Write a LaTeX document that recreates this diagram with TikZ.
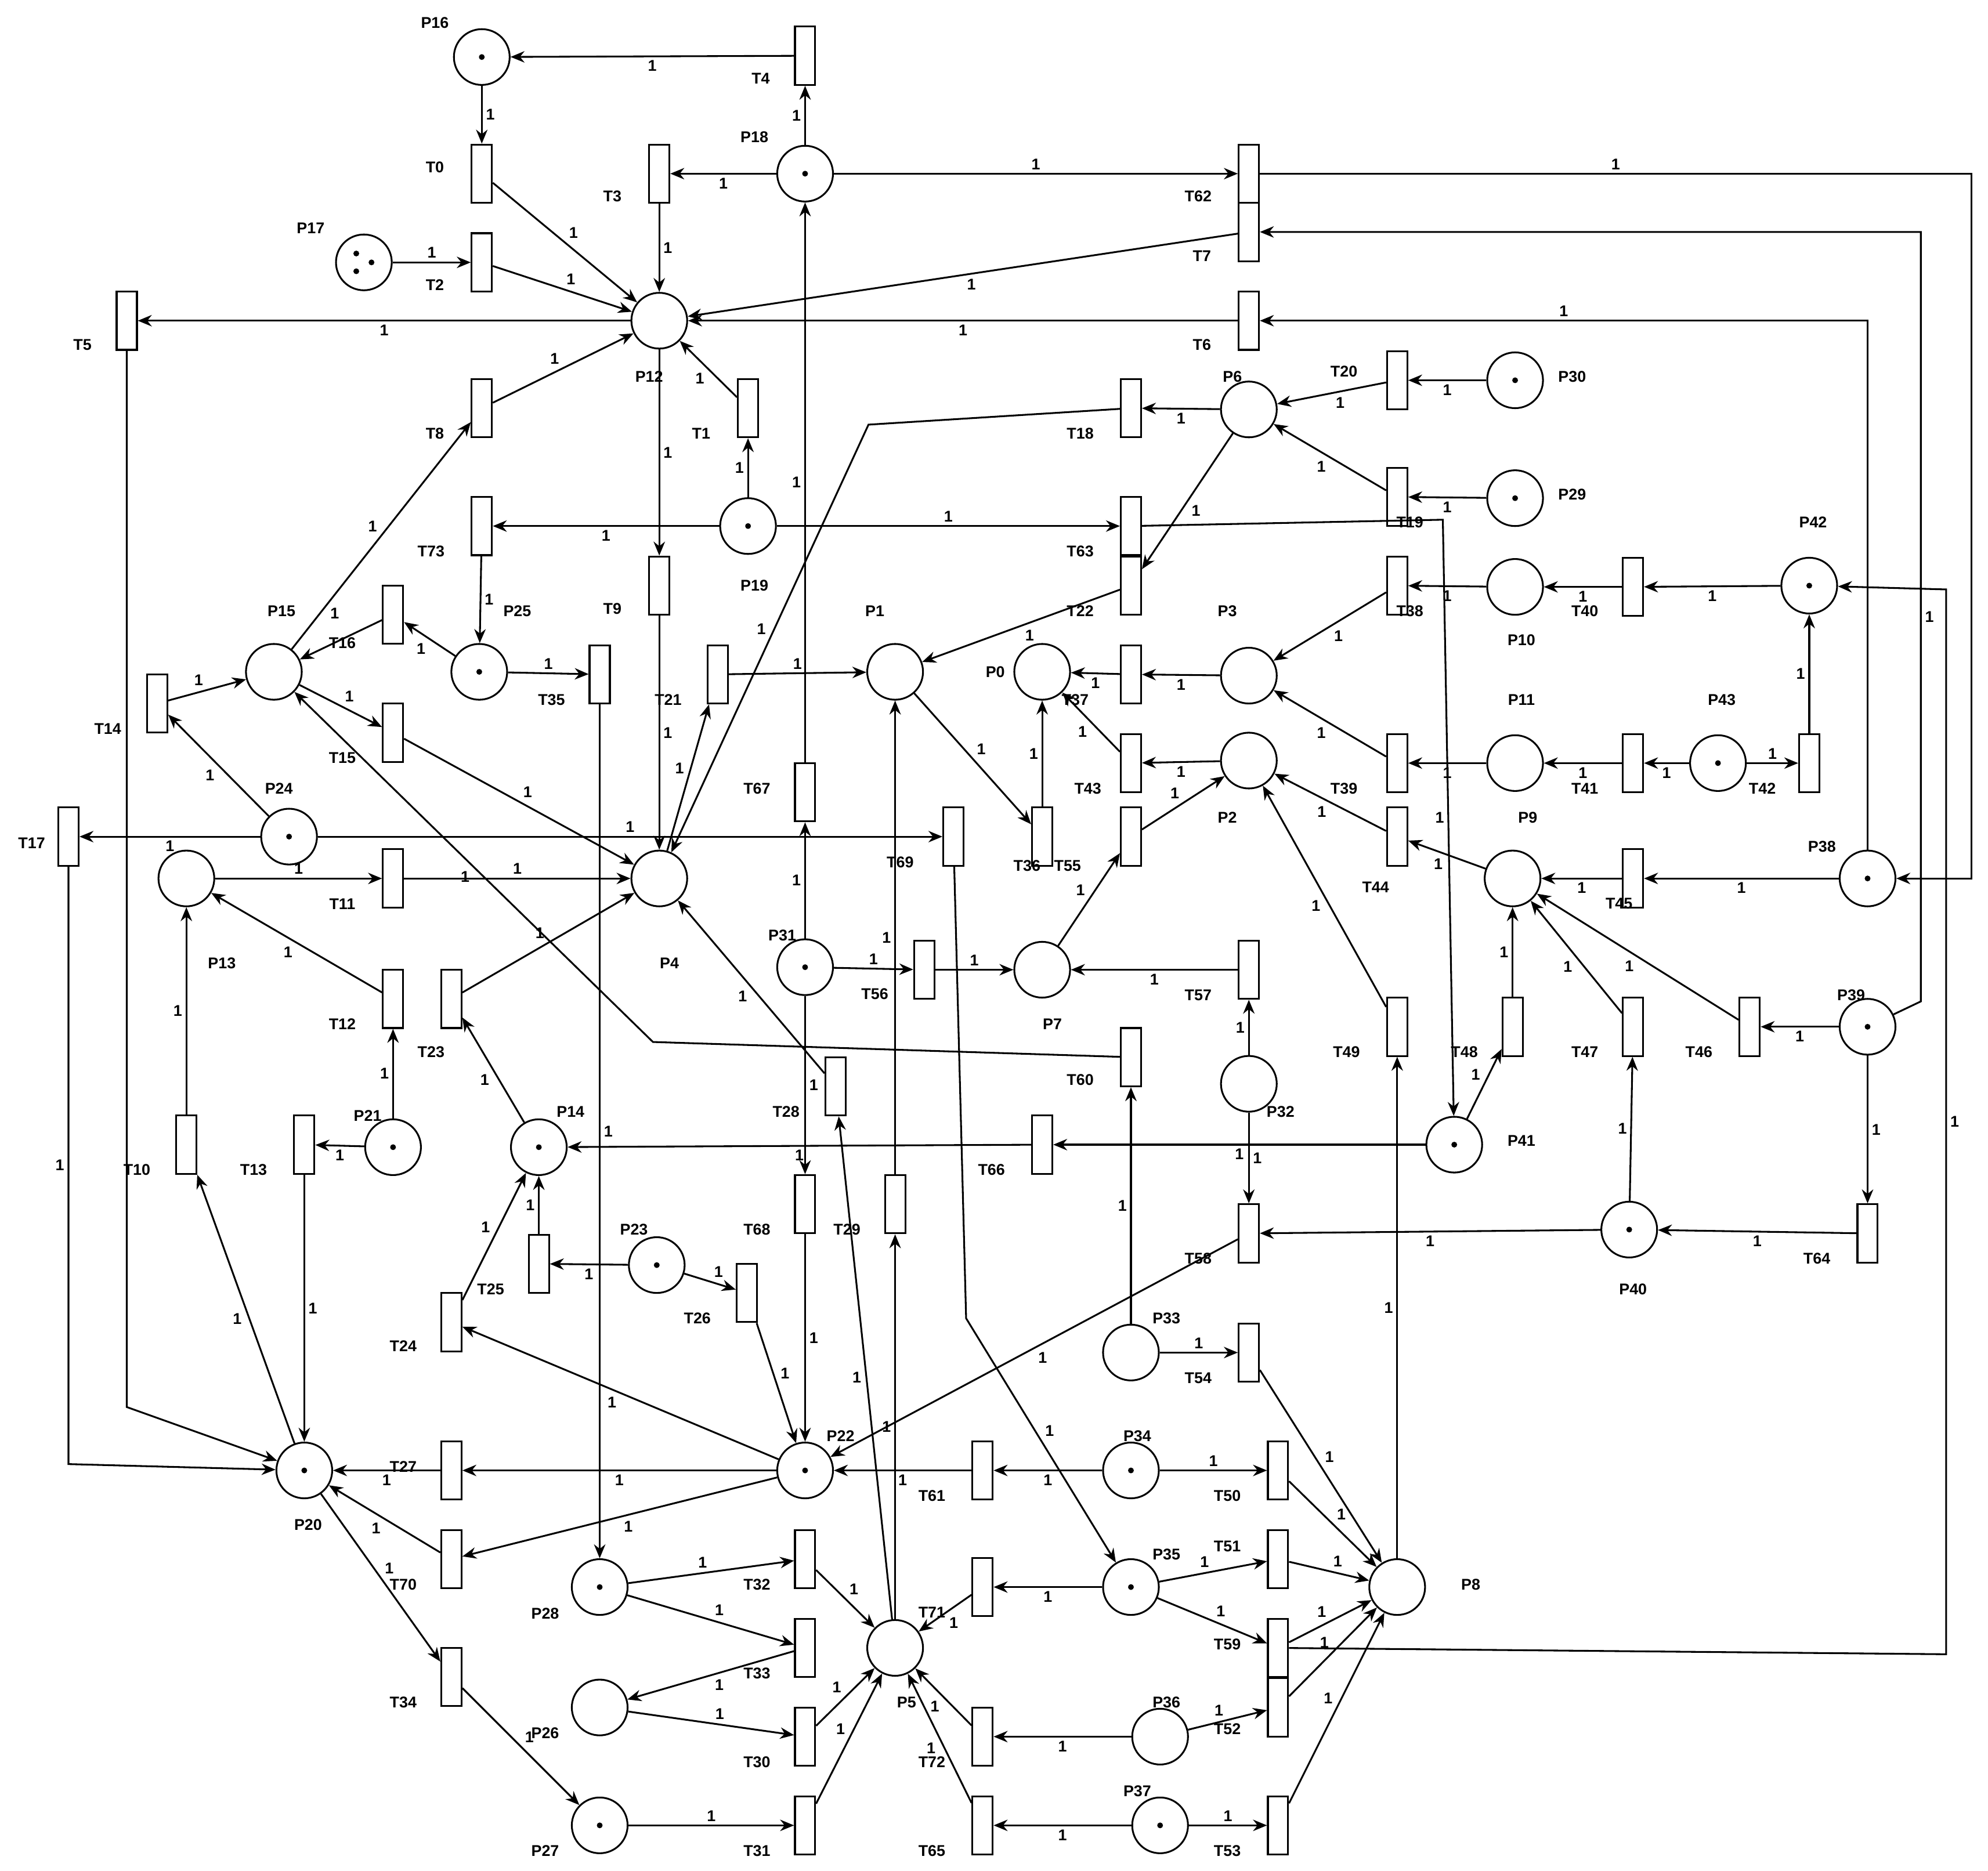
\documentclass[tikz,border=0pt]{standalone}
\usepackage{fontspec}
\setmainfont{Liberation Sans}
\usetikzlibrary{arrows.meta}
\begin{document}
\begin{tikzpicture}[x=0.02cm,y=-0.02cm,
 pl/.style={circle,draw,thick,minimum size=0.88cm,inner sep=0pt},
 tk/.style={pl,path picture={\fill (path picture bounding box.center) circle (1.3pt);}},
 tr/.style={rectangle,draw,thick,minimum width=0.32cm,minimum height=0.92cm,inner sep=0pt},
 lb/.style={font=\bfseries\fontsize{7}{8}\selectfont},
 w/.style={font=\bfseries\fontsize{7}{8}\selectfont,inner sep=1.5pt,auto},
 arc/.style={-{Stealth[length=2.2mm,width=1.8mm]},thick}]
\useasboundingbox (0,0) rectangle (1568,1476);
% places
\foreach \n/\x/\y in {P12/520/253,P6/985/323,P10/1195/463,P15/216/530,P1/706/530,P0/822/530,P3/985/533,P11/1195/602,P2/985/600,P13/147/693,P4/520/693,P9/1193/693,P7/822/765,P32/985/855,P33/892/1067,P8/1102/1252,P5/706/1300,P26/473/1347,P36/915/1370}
  \node[pl] (\n) at (\x,\y) {};
\foreach \n/\x/\y in {P16/380/45,P18/635/137,P30/1195/300,P29/1195/393,P19/590/415,P42/1427/462,P25/378/530,P43/1355/602,P24/228/660,P38/1473/693,P31/635/763,P39/1473/810,P14/425/905,P21/310/905,P41/1147/903,P23/518/998,P40/1285/970,P20/240/1160,P22/635/1160,P34/892/1160,P28/473/1252,P35/892/1252,P27/473/1440,P37/915/1440}
  \node[tk] (\n) at (\x,\y) {};
\node[pl] (P17) at (287,207) {};
\fill (281,200) circle (1.3pt) (293,207) circle (1.3pt) (281,214) circle (1.3pt);
% transitions
\foreach \n/\x/\y in {T4/635/44,T0/380/137,T3/520/137,T62/985/137,T2/380/207,T7/985/183,T5/100/253,T6/985/253,T8/380/322,T1/590/322,T18/892/322,T20/1102/300,T19/1102/392,T73/380/415,T63/892/415,T9/520/462,T22/892/462,T38/1102/462,T40/1288/463,T16/310/485,T35/473/532,T21/566/532,T37/892/532,T14/124/555,T15/310/578,T39/1102/602,T41/1288/602,T42/1427/602,T43/892/602,T67/635/625,T17/54/660,T69/752/660,T36/822/660,T55/892/660,T44/1102/660,T11/310/693,T45/1288/693,T56/729/765,T57/985/765,T12/310/788,T23/356/788,T49/1102/810,T48/1193/810,T47/1288/810,T46/1380/810,T60/892/834,T28/659/857,T66/822/903,T10/147/903,T13/240/903,T68/635/950,T29/706/950,T58/985/973,T64/1473/973,T25/425/997,T26/589/1020,T24/356/1043,T54/985/1067,T27/356/1160,T61/775/1160,T50/1008/1160,T70/356/1230,T32/635/1230,T71/775/1252,T51/1008/1230,T33/635/1300,T59/1008/1300,T34/356/1323,T30/635/1370,T72/775/1370,T52/1008/1347,T31/635/1440,T65/775/1440,T53/1008/1440}
  \node[tr] (\n) at (\x,\y) {};
% labels
\foreach \t/\x/\y in {P16/343/18,P18/595/108,P17/245/180,P12/512/297,P6/972/297,P30/1240/297,P29/1240/390,P19/595/462,P42/1430/412,P10/1200/505,P15/222/482,P25/408/482,P1/690/482,P0/785/530,P3/968/482,P11/1200/552,P43/1358/552,P2/968/645,P24/220/622,P13/175/760,P4/528/760,P9/1205/645,P38/1437/668,P31/617/738,P7/830/808,P32/1010/877,P39/1460/785,P14/450/877,P21/290/880,P41/1200/900,P23/500/970,P40/1288/1017,P33/920/1040,P20/243/1203,P22/663/1133,P34/897/1133,P28/430/1273,P35/920/1226,P8/1160/1250,P5/715/1343,P26/430/1367,P36/920/1343,P27/430/1460,P37/897/1413,
T4/600/62,T0/343/132,T3/483/155,T62/945/155,T2/343/225,T7/948/202,T5/65/272,T6/948/272,T8/343/342,T1/553/342,T18/852/342,T20/1060/293,T19/1112/412,T73/340/435,T63/852/435,T9/483/480,T22/852/482,T38/1112/482,T40/1250/482,T16/270/507,T35/435/552,T21/527/552,T37/848/552,T14/85/575,T15/270/598,T39/1060/622,T41/1250/622,T42/1390/622,T43/858/622,T67/597/622,T17/25/665,T69/710/680,T36/810/683,T55/842/683,T44/1085/700,T11/270/713,T45/1277/713,T56/690/784,T57/945/785,T12/270/808,T23/340/830,T49/1062/830,T48/1155/830,T47/1250/830,T46/1340/830,T60/852/852,T28/620/877,T66/782/923,T10/108/923,T13/200/923,T68/597/970,T29/668/970,T58/945/993,T64/1433/993,T25/387/1017,T26/550/1040,T24/318/1062,T54/945/1087,T27/318/1157,T61/735/1180,T50/968/1180,T70/318/1250,T32/597/1250,T71/735/1272,T51/968/1220,T33/597/1320,T59/968/1297,T34/318/1343,T30/597/1390,T72/735/1390,T52/968/1364,T31/597/1460,T65/735/1460,T53/968/1460}
  \node[lb] at (\x,\y) {\t};
% bend coordinates
\coordinate (c1) at (1555,137); \coordinate (c2) at (1555,693);
\coordinate (c3) at (1515,790); \coordinate (c4) at (1515,183);
\coordinate (c5) at (1473,253); \coordinate (c6) at (100,1110);
\coordinate (c7) at (685,335); \coordinate (c8) at (1138,410);
\coordinate (c9) at (54,1155); \coordinate (c10) at (762,1040);
\coordinate (c11) at (515,822); \coordinate (c12) at (1535,1305);
\coordinate (c13) at (1535,465);
% straight arcs
\foreach \a/\b in {T4/P16,P18/T4,P16/T0,T0/P12,P18/T3,T3/P12,P18/T62,T7/P12,P17/T2,T2/P12,P12/T5,T6/P12,T8/P12,P15/T8,P19/T1,T1/P12,P6/T18,T20/P6,P30/T20,T19/P6,P29/T19,P6/T22,T22/P1,P19/T73,T73/P25,P19/T63,P12/T9,T9/P4,P42/T40,T40/P10,P10/T38,T38/P3,P25/T16,P25/T35,T35/P28,T21/P1,P4/T21,P3/T37,T37/P0,T14/P15,P24/T14,P15/T15,T15/P4,T39/P3,P11/T39,P43/T41,T41/P11,P43/T42,T42/P42,T43/P0,P2/T43,P31/T67,T67/P18,P24/T17,P24/T69,P1/T36,T36/P0,T55/P2,P7/T55,T44/P2,P9/T44,P13/T11,T11/P4,P38/T45,T45/P9,P31/T56,T56/P7,T57/P7,P32/T57,T12/P13,P21/T12,T23/P4,P14/T23,T49/P2,P8/T49,T48/P9,P41/T48,T47/P9,P40/T47,T46/P9,P39/T46,P33/T60,T28/P4,P5/T28,P41/T66,T66/P14,T10/P13,P20/T10,P21/T13,T13/P20,P31/T68,T68/P22,P5/T29,T29/P1,P32/T58,T58/P22,P39/T64,T64/P40,P40/T58,P23/T25,T25/P14,P23/T26,T26/P22,P22/T24,T24/P14,P33/T54,T54/P8,P22/T27,T27/P20,P34/T61,T61/P22,P34/T50,T50/P8,P22/T70,T70/P20,P28/T32,T32/P5,P28/T33,T33/P26,P35/T71,T71/P5,P35/T51,T51/P8,P35/T59,T59/P8,P20/T34,T34/P27,P26/T30,T30/P5,P36/T72,T72/P5,P36/T52,T52/P8,P27/T31,T31/P5,P37/T65,T65/P5,P37/T53,T53/P8}
  \draw[arc] (\a) -- node[w]{1} (\b);
\draw[arc] (T16) -- (P15);
\node[w] at (264,484) {1};
% bent arcs
\draw[arc] (T62) -- node[w]{1} (c1) -- (c2) -- (P38);
\draw[arc] (P39) -- (c3) -- node[w,swap]{1} (c4) -- (T7);
\draw[arc] (P38) -- (c5) -- node[w,swap]{1} (T6);
\draw[arc] (T5) -- (c6) -- (P20);
\draw[arc] (T18) -- (c7) -- node[w,swap]{1} (P4);
\draw[arc] (T63) -- (c8) -- node[w,swap]{1} (P41);
\draw[arc] (T17) -- node[w,swap]{1} (c9) -- (P20);
\draw[arc] (T69) -- (c10) -- node[w]{1} (P35);
\draw[arc] (T60) -- (c11) -- node[w]{1} (P15);
\draw[arc] (T59) -- (c12) -- node[w,swap]{1} (c13) -- (P42);
\end{tikzpicture}
\end{document}
